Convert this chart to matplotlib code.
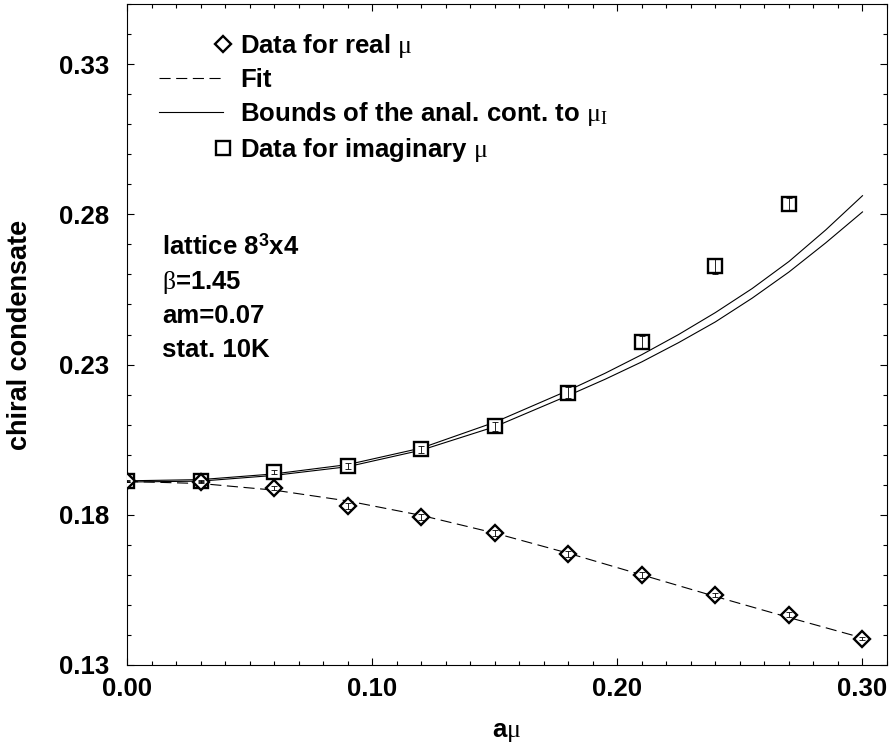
import numpy as np
import matplotlib
matplotlib.use("Agg")
import matplotlib.pyplot as plt
from matplotlib.lines import Line2D
from matplotlib.legend_handler import HandlerLine2DCompound
from matplotlib.ticker import MultipleLocator, FormatStrFormatter

# values
mu = [0.00, 0.03, 0.06, 0.09, 0.12, 0.15, 0.18, 0.21, 0.24, 0.27, 0.30]
real_y = [0.1912, 0.1909, 0.1888, 0.1829, 0.1793, 0.1738, 0.1669, 0.1600, 0.1533, 0.1467, 0.1387]
real_err = [0.0003, 0.0004, 0.0007, 0.0011, 0.0010, 0.0010, 0.0010, 0.0010, 0.0008, 0.0008, 0.0005]
fit_y = [0.1911, 0.1904, 0.1882, 0.1846, 0.1798, 0.1739, 0.1672, 0.1600, 0.1528, 0.1458, 0.1390]

imag_mu = [0.00, 0.03, 0.06, 0.09, 0.12, 0.15, 0.18, 0.21, 0.24, 0.27]
imag_y = [0.1911, 0.1913, 0.1942, 0.1962, 0.2018, 0.2095, 0.2206, 0.2376, 0.2628, 0.2833]
imag_err = [0.0003, 0.0004, 0.0007, 0.0009, 0.0011, 0.0015, 0.0018, 0.0020, 0.0026, 0.0020]

bound_mu = [0.00, 0.03, 0.06, 0.09, 0.12, 0.15, 0.18, 0.195, 0.21, 0.225, 0.24, 0.255, 0.27, 0.285, 0.30]
bound_hi = [0.1913, 0.1917, 0.1936, 0.1967, 0.2022, 0.2108, 0.2214, 0.2271, 0.2333,
            0.2400, 0.2473, 0.2553, 0.2643, 0.2748, 0.2862]
bound_lo = [0.1909, 0.1912, 0.1931, 0.1960, 0.2015, 0.2093, 0.2197, 0.2251, 0.2309,
            0.2373, 0.2442, 0.2521, 0.2608, 0.2705, 0.2808]

FS = 18.5
plt.rcParams["font.family"] = "Liberation Sans"
plt.rcParams["font.weight"] = "bold"
plt.rcParams["font.size"] = FS
plt.rcParams["mathtext.fontset"] = "custom"
plt.rcParams["mathtext.rm"] = "Liberation Serif:weight=normal"
plt.rcParams["mathtext.it"] = "Liberation Serif:italic:weight=normal"
plt.rcParams["mathtext.bf"] = "Liberation Sans:bold"


# legend markers sit at the right end of the handle, like in xmgrace
class MarkerRight(HandlerLine2DCompound):
    def get_xdata(self, legend, xdescent, ydescent, width, height, fontsize):
        xdata, _ = super().get_xdata(legend, xdescent, ydescent, width, height, fontsize)
        return xdata, np.array([-xdescent + width])


fig = plt.figure(figsize=(8.92, 7.45), dpi=100)
ax = fig.add_axes([0.1424, 0.1074, 0.852, 0.8872])

ax.plot(bound_mu, bound_hi, color="black", lw=0.8, zorder=2)
ax.plot(bound_mu, bound_lo, color="black", lw=0.8, zorder=2)
ax.plot(mu, fit_y, color="black", lw=0.8, dashes=(10, 5), zorder=2)

ax.plot(imag_mu, imag_y, "s", ms=9.6, mfc="white", mec="black", mew=1.7, zorder=3)
ax.plot(mu, real_y, "D", ms=8.0, mfc="white", mec="black", mew=1.7, zorder=4)
ax.errorbar(imag_mu, imag_y, yerr=imag_err, fmt="none", ecolor="black",
            elinewidth=0.6, capsize=2, capthick=0.6, zorder=5)
ax.errorbar(mu, real_y, yerr=real_err, fmt="none", ecolor="black",
            elinewidth=0.6, capsize=2, capthick=0.6, zorder=5)

ax.set_xlim(0, 0.31)
ax.set_ylim(0.13, 0.35)
ax.xaxis.set_major_locator(MultipleLocator(0.10))
ax.xaxis.set_minor_locator(MultipleLocator(0.01))
ax.yaxis.set_minor_locator(MultipleLocator(0.01))
ax.set_yticks([0.13, 0.18, 0.23, 0.28, 0.33])
ax.xaxis.set_major_formatter(FormatStrFormatter("%.2f"))
ax.yaxis.set_major_formatter(FormatStrFormatter("%.2f"))
ax.tick_params(which="both", direction="in", top=True, right=True, width=0.8)
ax.tick_params(which="major", length=5, labelsize=FS)
ax.tick_params(axis="y", which="major", pad=13)
ax.tick_params(axis="x", which="major", pad=9)
ax.tick_params(which="minor", length=3)
for s in ax.spines.values():
    s.set_linewidth(0.8)

ax.set_xlabel(r"a$\mathrm{\mu}$", fontsize=FS, fontweight="bold")
ax.set_ylabel("chiral condensate", fontsize=19.5, fontweight="bold")
ax.xaxis.set_label_coords(0.5, -0.083)
ax.yaxis.set_label_coords(-0.124, 0.5)

handles = [
    Line2D([], [], ls="none", marker="D", ms=8.0, mfc="white", mec="black", mew=1.7),
    Line2D([], [], color="black", lw=0.8, dashes=(10, 5)),
    Line2D([], [], color="black", lw=0.8),
    Line2D([], [], ls="none", marker="s", ms=9.6, mfc="white", mec="black", mew=1.7),
]
labels = [r"Data for real $\mathrm{\mu}$", "Fit",
          r"Bounds of the anal. cont. to $\mathrm{\mu_I}$",
          r"Data for imaginary $\mathrm{\mu}$"]
ax.legend(handles, labels, loc="upper left", bbox_to_anchor=(0.042, 0.958),
          frameon=False, borderpad=0, borderaxespad=0, handlelength=2.49,
          handletextpad=0.66, labelspacing=0.32,
          handler_map={Line2D: MarkerRight(numpoints=1)}, fontsize=FS)

info = ["lattice 8$^{\\mathbf{3}}$x4", r"$\mathrm{\beta}$=1.45", "am=0.07", "stat. 10K"]
info_y = [0.6203, 0.5683, 0.5179, 0.4667]
for t, y in zip(info, info_y):
    ax.text(0.046, y, t, transform=ax.transAxes, va="baseline", ha="left", fontsize=FS)

fig.savefig("out.png", dpi=100)
